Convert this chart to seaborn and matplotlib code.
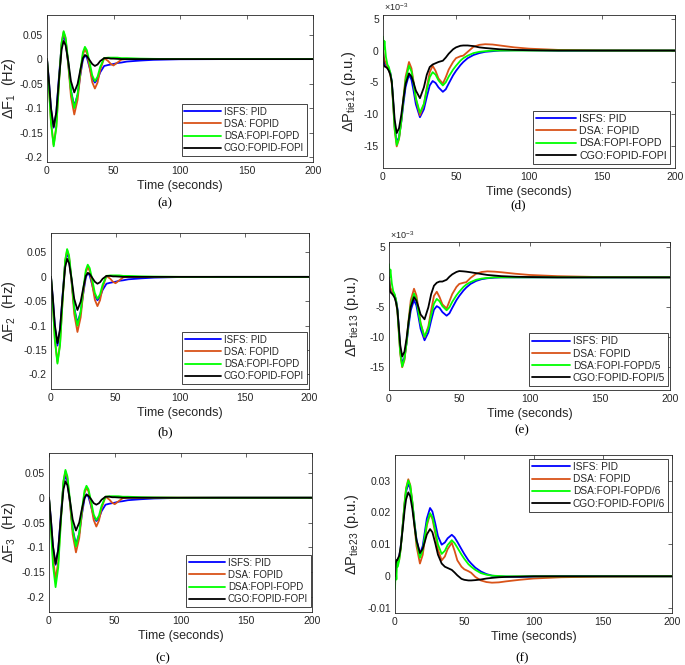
import numpy as np
import pandas as pd
import matplotlib
matplotlib.use("Agg")
import matplotlib.pyplot as plt
import seaborn as sns

# ---- data ----
legend_f = ["ISFS: PID", "DSA: FOPID", "DSA:FOPI-FOPD", "CGO:FOPID-FOPI"]
legend_d = ["ISFS: PID", "DSA: FOPID", "DSA:FOPI-FOPD", "CGO:FOPID-FOPI"]
legend_e = ["ISFS: PID", "DSA: FOPID", "DSA:FOPI-FOPD/5", "CGO:FOPID-FOPI/5"]
legend_f23 = ["ISFS: PID", "DSA: FOPID", "DSA:FOPI-FOPD/6", "CGO:FOPID-FOPI/6"]

# frequency deviations (Hz)
t_freq = [0, 1.5, 3, 5, 7, 9, 11, 12.5, 14, 16, 18, 20.5, 23, 25, 27, 28.5, 30, 32, 34, 36,
          38, 40, 43, 46, 48, 50, 53, 56, 60, 70, 80, 100, 130, 200]

f1_isfs = [0, -0.047, -0.102, -0.14, -0.109, -0.036, 0.030, 0.048, 0.036, -0.010, -0.064, -0.096,
           -0.073, -0.034, -0.001, 0.008, 0.003, -0.017, -0.039, -0.048, -0.041, -0.027, -0.014,
           -0.012, -0.011, -0.010, -0.008, -0.007, -0.005, -0.003, -0.0015, -0.0003, 0, 0]
f1_dsa = [0, -0.059, -0.128, -0.175, -0.137, -0.048, 0.033, 0.055, 0.041, -0.012, -0.076, -0.113,
          -0.083, -0.033, 0.009, 0.020, 0.012, -0.016, -0.047, -0.060, -0.048, -0.022, 0.002,
          -0.004, -0.010, -0.013, -0.007, -0.001, 0, 0, 0, 0, 0, 0]
f1_dsa2 = [0, -0.060, -0.130, -0.178, -0.140, -0.048, 0.034, 0.057, 0.044, -0.006, -0.065, -0.100,
           -0.072, -0.025, 0.014, 0.025, 0.018, -0.006, -0.033, -0.045, -0.036, -0.016, 0.002,
           0.003, 0.003, 0.003, 0.003, 0.002, 0.002, 0.001, 0.0005, 0, 0, 0]
f1_cgo = [0, -0.046, -0.100, -0.138, -0.109, -0.041, 0.020, 0.037, 0.028, -0.005, -0.045, -0.068,
          -0.051, -0.023, 0.002, 0.008, 0.006, -0.002, -0.010, -0.014, -0.011, -0.004, 0.002,
          0.002, 0.001, 0.001, 0.0005, 0, 0, 0, 0, 0, 0, 0]

f2_isfs = [0, -0.048, -0.103, -0.141, -0.110, -0.037, 0.030, 0.049, 0.037, -0.010, -0.063, -0.095,
           -0.072, -0.034, -0.001, 0.008, 0.003, -0.017, -0.039, -0.048, -0.041, -0.027, -0.014,
           -0.012, -0.011, -0.010, -0.008, -0.007, -0.005, -0.003, -0.0015, -0.0003, 0, 0]
f2_dsa = [0, -0.059, -0.128, -0.175, -0.137, -0.048, 0.033, 0.055, 0.041, -0.012, -0.076, -0.113,
          -0.083, -0.033, 0.009, 0.020, 0.012, -0.016, -0.047, -0.060, -0.048, -0.022, 0.002,
          -0.004, -0.010, -0.013, -0.007, -0.001, 0, 0, 0, 0, 0, 0]
f2_dsa2 = [0, -0.060, -0.130, -0.178, -0.140, -0.048, 0.034, 0.057, 0.044, -0.006, -0.065, -0.100,
           -0.072, -0.025, 0.014, 0.025, 0.018, -0.006, -0.033, -0.045, -0.036, -0.016, 0.002,
           0.003, 0.003, 0.003, 0.003, 0.002, 0.002, 0.001, 0.0005, 0, 0, 0]
f2_cgo = [0, -0.045, -0.099, -0.136, -0.107, -0.040, 0.020, 0.037, 0.028, -0.005, -0.045, -0.068,
          -0.051, -0.023, 0.002, 0.008, 0.006, -0.002, -0.010, -0.014, -0.011, -0.004, 0.002,
          0.002, 0.001, 0.001, 0.0005, 0, 0, 0, 0, 0, 0, 0]

f3_isfs = [0, -0.046, -0.099, -0.135, -0.105, -0.036, 0.028, 0.045, 0.033, -0.011, -0.063, -0.094,
           -0.072, -0.034, -0.002, 0.007, 0.002, -0.017, -0.038, -0.047, -0.041, -0.027, -0.014,
           -0.012, -0.011, -0.010, -0.008, -0.007, -0.005, -0.003, -0.0015, -0.0003, 0, 0]
f3_dsa = [0, -0.056, -0.120, -0.165, -0.129, -0.045, 0.032, 0.053, 0.039, -0.012, -0.074, -0.110,
          -0.081, -0.032, 0.009, 0.020, 0.013, -0.015, -0.045, -0.058, -0.046, -0.021, 0.002,
          -0.004, -0.010, -0.013, -0.007, -0.001, 0, 0, 0, 0, 0, 0]
f3_dsa2 = [0, -0.062, -0.135, -0.180, -0.141, -0.050, 0.034, 0.056, 0.043, -0.006, -0.064, -0.098,
           -0.071, -0.025, 0.014, 0.024, 0.017, -0.007, -0.034, -0.045, -0.036, -0.016, 0.002,
           0.003, 0.003, 0.003, 0.003, 0.002, 0.002, 0.001, 0.0005, 0, 0, 0]
f3_cgo = [0, -0.045, -0.097, -0.133, -0.105, -0.041, 0.017, 0.033, 0.025, -0.007, -0.044, -0.066,
          -0.050, -0.023, 0.0, 0.006, 0.004, -0.003, -0.011, -0.014, -0.011, -0.004, 0.002,
          0.002, 0.001, 0.001, 0.0005, 0, 0, 0, 0, 0, 0, 0]

# tie-line power 1-2 and 1-3 (x1e-3 p.u.)
t_tie = [0, 0.5, 1, 2, 3, 4, 5, 6, 7, 8, 9.4, 11, 12.5, 14, 15.5, 17.8, 19.5, 21, 22.5, 25.3, 28,
         30, 32, 34, 36, 38, 41, 43, 45, 48, 50, 53, 55, 58, 62, 66, 70, 75, 80, 90, 100, 120, 150, 200]

p12_isfs = [0, -1.5, -2.0, -2.3, -2.5, -3.0, -3.5, -4.8, -8.2, -12.0, -14.5, -13.6, -11.3, -8.35,
            -5.7, -3.8, -4.6, -6.4, -8.45, -10.5, -9.25, -7.3, -5.5, -4.8, -5.1, -5.8, -6.5, -6.1,
            -5.2, -3.9, -3.2, -2.3, -1.8, -1.2, -0.7, -0.4, -0.2, -0.1, 0, 0.05, 0.05, 0, 0, 0]
p12_dsa = [1.0, -1.0, -1.5, -2.0, -2.5, -3.0, -3.8, -5.2, -8.7, -12.5, -15.1, -13.9, -11.1, -7.45,
           -4.1, -1.8, -2.8, -5.0, -7.6, -10.2, -8.5, -5.8, -3.4, -2.4, -3.2, -4.4, -5.2, -4.2,
           -3.0, -1.8, -1.2, -0.9, -0.8, -0.2, 0.6, 0.9, 1.0, 0.95, 0.8, 0.5, 0.3, 0.1, 0.02, 0]
p12_dsa2 = [2.2, 0.2, 1.5, -1.0, -2.2, -2.6, -3.5, -4.9, -8.4, -12.3, -14.9, -13.8, -11.15, -7.7,
            -4.6, -2.4, -3.3, -5.26, -7.5, -9.8, -8.4, -6.2, -4.2, -3.4, -3.8, -4.7, -5.5, -5.0,
            -4.1, -3.0, -2.4, -1.6, -1.2, -0.8, -0.4, -0.2, -0.1, 0, 0, 0, 0, 0, 0, 0]
p12_cgo = [0, -2.2, -2.5, -2.6, -2.8, -3.2, -3.8, -4.9, -7.8, -10.9, -13.0, -12.2, -10.2, -7.6,
           -5.2, -3.6, -4.1, -5.1, -6.3, -7.5, -5.8, -3.8, -2.6, -2.2, -2.0, -1.8, -1.6, -1.1,
           -0.5, 0.2, 0.5, 0.75, 0.8, 0.8, 0.7, 0.5, 0.4, 0.3, 0.2, 0.1, 0.05, 0, 0, 0]

p13_isfs = [0, -1.5, -2.0, -2.4, -2.6, -3.0, -3.8, -5.2, -8.5, -12.0, -14.4, -13.4, -11.0, -8.0,
            -5.5, -3.8, -4.7, -6.6, -8.6, -10.5, -9.2, -7.2, -5.4, -4.8, -5.1, -5.8, -6.4, -6.0,
            -5.1, -3.8, -3.1, -2.2, -1.7, -1.1, -0.6, -0.3, -0.15, -0.05, 0, 0, 0, 0, 0, 0]
p13_dsa = [1.0, -1.2, -1.8, -2.2, -2.6, -3.0, -4.0, -5.8, -9.3, -12.8, -15.0, -13.8, -10.8, -7.0,
           -3.8, -1.9, -3.0, -5.2, -7.6, -10.0, -8.2, -5.5, -3.1, -2.4, -3.3, -4.5, -5.2, -4.0,
           -2.8, -1.6, -1.1, -0.9, -0.8, -0.1, 0.6, 0.9, 1.0, 0.95, 0.85, 0.6, 0.4, 0.2, 0.05, 0]
p13_dsa2 = [2.2, 0.0, 1.3, -1.0, -2.3, -2.8, -3.8, -5.5, -9.0, -12.5, -14.9, -13.6, -10.9, -7.4,
            -4.5, -2.7, -3.7, -5.8, -7.8, -9.9, -8.5, -6.3, -4.4, -3.6, -4.0, -4.8, -5.5, -5.0,
            -4.1, -3.0, -2.4, -1.6, -1.2, -0.8, -0.4, -0.2, -0.1, 0, 0, 0, 0, 0, 0, 0]
p13_cgo = [0, -2.2, -2.5, -2.7, -3.0, -3.4, -4.2, -5.5, -8.3, -11.3, -13.2, -12.4, -10.2, -7.3,
           -4.9, -3.3, -3.9, -5.0, -6.2, -7.0, -5.0, -2.8, -1.4, -0.9, -0.7, -0.7, -0.4, 0.1,
           0.5, 0.9, 1.05, 1.0, 0.95, 0.85, 0.7, 0.55, 0.4, 0.3, 0.2, 0.1, 0.05, 0, 0, 0]

# tie-line power 2-3 (p.u.)
t_tie23 = [0, 0.5, 1, 1.5, 2, 3, 4, 5, 6, 7, 8, 9.6, 11, 12.5, 14, 15.5, 18, 20, 21.5, 23, 25.3,
           27, 29, 31, 33.7, 36, 38, 41, 43, 45, 48, 50, 53, 55, 58, 62, 66, 70, 75, 80, 90, 100,
           120, 150, 200]

p23_isfs = [0, 0.003, 0.004, 0.005, 0.005, 0.006, 0.0088, 0.0132, 0.018, 0.0228, 0.0265, 0.029,
            0.0275, 0.023, 0.0171, 0.0116, 0.007, 0.0095, 0.0138, 0.0181, 0.0214, 0.0203, 0.0167,
            0.0126, 0.0099, 0.0106, 0.0119, 0.013, 0.0122, 0.0108, 0.0085, 0.007, 0.005, 0.004,
            0.0027, 0.0015, 0.0007, 0.0002, 0, -0.0001, -0.0002, -0.0001, 0, 0, 0]
p23_dsa = [0, 0.002, 0.003, 0.004, 0.004, 0.0051, 0.0082, 0.013, 0.0183, 0.0235, 0.0276, 0.0304,
           0.0286, 0.0233, 0.0161, 0.0095, 0.004, 0.0067, 0.0113, 0.0159, 0.0195, 0.018, 0.0136,
           0.0084, 0.005, 0.0062, 0.0085, 0.0105, 0.008, 0.005, 0.003, 0.0022, 0.0016, 0.0011,
           -0.0002, -0.0013, -0.0018, -0.002, -0.0019, -0.0016, -0.0011, -0.0007, -0.0003,
           -0.0001, 0]
p23_dsa2 = [-0.004, 0.003, -0.001, 0.005, 0.003, 0.005, 0.0082, 0.0128, 0.018, 0.0232, 0.0273,
            0.030, 0.0284, 0.0235, 0.0169, 0.0109, 0.0058, 0.0082, 0.0124, 0.0166, 0.0198, 0.0185,
            0.0146, 0.010, 0.007, 0.008, 0.0098, 0.0113, 0.0104, 0.009, 0.0068, 0.0055, 0.0038,
            0.003, 0.002, 0.001, 0.0005, 0.0002, 0.0001, 0, 0, 0, 0, 0, 0]
p23_cgo = [0, 0.004, 0.005, 0.005, 0.0055, 0.0064, 0.0088, 0.0126, 0.0167, 0.0209, 0.0241, 0.0263,
           0.025, 0.0212, 0.016, 0.0113, 0.0073, 0.0086, 0.0108, 0.0131, 0.0148, 0.0138, 0.0105,
           0.0068, 0.004, 0.003, 0.0026, 0.002, 0.0012, 0.0003, -0.0008, -0.0011, -0.0013,
           -0.0013, -0.0012, -0.001, -0.0007, -0.0005, -0.0003, -0.0002, -0.0001, 0, 0, 0, 0]

colors = ["#0000FF", "#D95319", "#00FF00", "#000000"]

sns.set_theme(style="white")
plt.rcParams["font.family"] = ["Liberation Sans", "DejaVu Sans"]
plt.rcParams["mathtext.fontset"] = "custom"
plt.rcParams["mathtext.rm"] = "Liberation Sans"
plt.rcParams["mathtext.it"] = "Liberation Sans:italic"

W, H = 685, 665
fig = plt.figure(figsize=(W / 100, H / 100), dpi=100)
fig.patch.set_facecolor("white")


def make_axes(l, r, t, b):
    return fig.add_axes([l / W, 1 - b / H, (r - l) / W, (b - t) / H])


def panel(ax, t, series, labels, ylim, yticks, yticklabels, ylabel, ylab_x,
          leg_loc, leg_anchor, leg_size):
    for vals, lab, c in zip(series, labels, colors):
        sns.lineplot(x=t, y=vals, ax=ax, color=c, linewidth=1.3, label=lab, sort=False)
    ax.set_xlim(0, 200)
    ax.set_ylim(*ylim)
    ax.set_xticks([0, 50, 100, 150, 200])
    ax.set_xticklabels(["0", "50", "100", "150", "200"])
    ax.set_yticks(yticks)
    ax.set_yticklabels(yticklabels)
    ax.tick_params(direction="in", top=True, right=True, length=3, width=0.5,
                   colors="0.15", labelsize=7.5, pad=3)
    for s in ax.spines.values():
        s.set_linewidth(0.6)
        s.set_color("0.15")
        s.set_visible(True)
    ax.set_xlabel("Time (seconds)", fontsize=9, color="0.15", labelpad=3)
    ax.set_ylabel(ylabel, fontsize=10.5, color="0.15")
    ax.yaxis.set_label_coords(ylab_x, 0.5)
    leg = ax.legend(loc=leg_loc, bbox_to_anchor=leg_anchor, fontsize=leg_size, frameon=True,
                    fancybox=False, framealpha=1, edgecolor="0.15", handlelength=3.8,
                    handletextpad=0.25, labelspacing=0.22, borderpad=0.3, borderaxespad=0)
    leg.get_frame().set_linewidth(0.6)
    for line in leg.get_lines():
        line.set_linewidth(1.3)


ax_a = make_axes(47, 313, 15, 162)
panel(ax_a, t_freq, [f1_isfs, f1_dsa, f1_dsa2, f1_cgo], legend_f, (-0.21, 0.09),
      [-0.2, -0.15, -0.1, -0.05, 0, 0.05], ["-0.2", "-0.15", "-0.1", "-0.05", "0", "0.05"],
      r"$\Delta$F$_1$  (Hz)", -0.108, "lower right", (0.977, 0.041), 7)

ax_b = make_axes(51, 309, 233, 389)
panel(ax_b, t_freq, [f2_isfs, f2_dsa, f2_dsa2, f2_cgo], legend_f, (-0.23, 0.09),
      [-0.2, -0.15, -0.1, -0.05, 0, 0.05], ["-0.2", "-0.15", "-0.1", "-0.05", "0", "0.05"],
      r"$\Delta$F$_2$  (Hz)", -0.128, "lower right", (0.992, 0.032), 7)

ax_c = make_axes(49, 312, 453, 612)
panel(ax_c, t_freq, [f3_isfs, f3_dsa, f3_dsa2, f3_cgo], legend_f, (-0.23, 0.09),
      [-0.2, -0.15, -0.1, -0.05, 0, 0.05], ["-0.2", "-0.15", "-0.1", "-0.05", "0", "0.05"],
      r"$\Delta$F$_3$  (Hz)", -0.118, "lower right", (0.996, 0.031), 7)

ax_d = make_axes(383, 675, 15, 168)
panel(ax_d, t_tie, [p12_isfs, p12_dsa, p12_dsa2, p12_cgo], legend_d, (-18.5, 5.6),
      [-15, -10, -5, 0, 5], ["-15", "-10", "-5", "0", "5"],
      r"$\Delta$P$_{\mathrm{tie12}}$ (p.u.)", -0.086, "lower right", (0.983, 0.026), 7.7)
ax_d.text(0.005, 1.01, r"$\times$10$^{-3}$", transform=ax_d.transAxes, fontsize=6.5,
          color="0.15", ha="left", va="bottom")

ax_e = make_axes(389, 670, 242, 390)
panel(ax_e, t_tie, [p13_isfs, p13_dsa, p13_dsa2, p13_cgo], legend_e, (-18.8, 5.9),
      [-15, -10, -5, 0, 5], ["-15", "-10", "-5", "0", "5"],
      r"$\Delta$P$_{\mathrm{tie13}}$ (p.u.)", -0.100, "lower right", (0.993, 0.027), 7.3)
ax_e.text(0.005, 1.01, r"$\times$10$^{-3}$", transform=ax_e.transAxes, fontsize=6.5,
          color="0.15", ha="left", va="bottom")

ax_f = make_axes(395, 672, 455, 613)
panel(ax_f, t_tie23, [p23_isfs, p23_dsa, p23_dsa2, p23_cgo], legend_f23, (-0.0115, 0.038),
      [-0.01, 0, 0.01, 0.02, 0.03], ["-0.01", "0", "0.01", "0.02", "0.03"],
      r"$\Delta$P$_{\mathrm{tie23}}$ (p.u.)", -0.123, "upper right", (0.986, 0.975), 7.3)

captions = ["(a)", "(b)", "(c)", "(d)", "(e)", "(f)"]
cap_xy = [(165, 203), (165, 432), (163, 658), (518, 205), (522, 430), (522, 658)]
for txt, (cx, cy) in zip(captions, cap_xy):
    fig.text(cx / W, 1 - cy / H, txt, fontsize=9.5, family="Liberation Serif",
             ha="center", va="center", color="black")

fig.savefig("out.png", dpi=100, facecolor="white")
